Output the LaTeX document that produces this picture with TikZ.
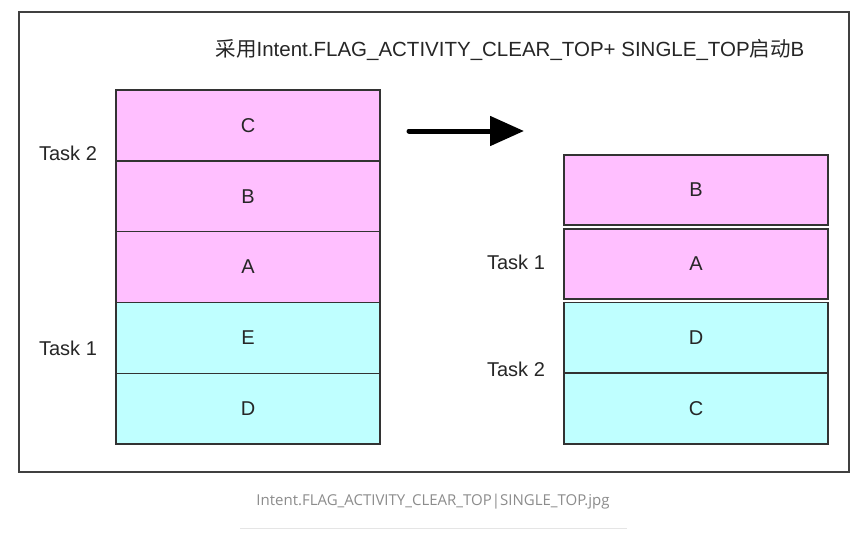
\documentclass[tikz,border=0pt]{standalone}
\usepackage{fontspec}
\setmainfont{Liberation Sans}
\newfontfamily\cjk{Noto Sans CJK SC}
\newfontfamily\capfont{Open Sans}
\usetikzlibrary{arrows.meta}
\definecolor{pinkf}{HTML}{FFBFFF}
\definecolor{cyanf}{HTML}{BFFFFF}
\definecolor{edge}{HTML}{333333}
\tikzset{
  stackbox/.style={draw=edge, line width=1.4pt, minimum width=264pt, minimum height=70.8pt, inner sep=0pt, font=\fontsize{20}{22}\selectfont, text=black!85},
  pinkbox/.style={stackbox, fill=pinkf},
  cyanbox/.style={stackbox, fill=cyanf},
  tasklabel/.style={font=\fontsize{20}{22}\selectfont, text=black!85, inner sep=0pt}
}
\begin{document}
\begin{tikzpicture}[x=1pt,y=-1pt]
\useasboundingbox (0,0) rectangle (867,555);
\fill[white] (0,0) rectangle (867,555);
\draw[draw=black!75, line width=1.4pt] (19,12) rectangle (849,472);
\node[inner sep=0pt, font=\fontsize{20.5}{22}\selectfont, text=black!85] (title) at (510,50) {{\cjk 采用}Intent.FLAG\_ACTIVITY\_CLEAR\_TOP+ SINGLE\_TOP{\cjk 启动}B};
% left stack
\node[pinkbox] (lC) at (248,125.4) {C};
\node[pinkbox] (lB) at (248,196.2) {B};
\node[pinkbox] (lA) at (248,267) {A};
\node[cyanbox] (lE) at (248,337.8) {E};
\node[cyanbox] (lD) at (248,408.6) {D};
\node[tasklabel] (lt2) at (68,153) {Task 2};
\node[tasklabel] (lt1) at (68,348) {Task 1};
% right stack
\node[pinkbox, minimum height=70pt] (rB) at (696,190) {B};
\node[pinkbox, minimum height=70pt] (rA) at (696,264) {A};
\node[cyanbox] (rD) at (696,337.6) {D};
\node[cyanbox] (rC) at (696,408.6) {C};
\node[tasklabel] (rt1) at (516,262) {Task 1};
\node[tasklabel] (rt2) at (516,369) {Task 2};
% arrow
\coordinate (as) at (409,131);
\coordinate (ae) at (524,131);
\draw[line width=5pt, line cap=round, -{Triangle[length=34pt,width=29pt]}] (as) -- (ae);
% caption
\node[inner sep=0pt, font=\capfont\fontsize{15}{17}\selectfont, text=black!45] (cap) at (433,502) {Intent.FLAG\_ACTIVITY\_CLEAR\_TOP|SINGLE\_TOP.jpg};
\coordinate (sl) at (240,528);
\coordinate (sr) at (627,528);
\draw[black!10, line width=0.8pt] (sl) -- (sr);
\end{tikzpicture}
\end{document}
